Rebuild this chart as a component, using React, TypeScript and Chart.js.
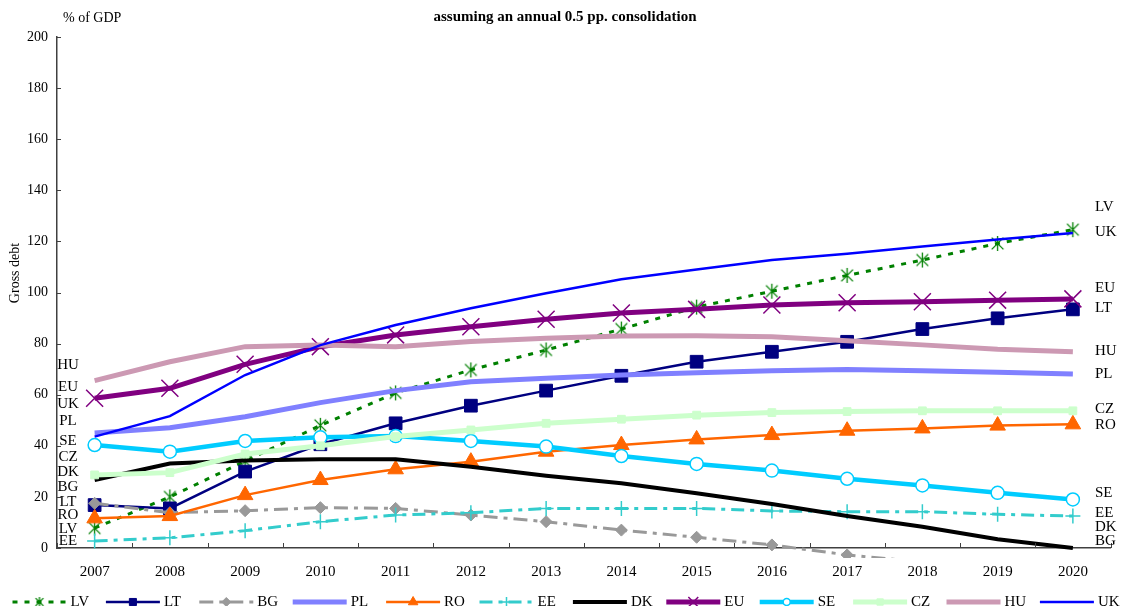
import React, { useEffect, useRef } from 'react';
import { Chart, registerables } from 'chart.js';
import { drawPoint } from 'chart.js/helpers';

Chart.register(...registerables);

const FONT = "'Liberation Serif', 'Times New Roman', Times, serif";

const years = ['2007', '2008', '2009', '2010', '2011', '2012', '2013', '2014', '2015', '2016', '2017', '2018', '2019', '2020'];

const LV = [7.8, 20, 34, 48, 60.7, 69.7, 77.5, 85.7, 94.3, 100.5, 106.7, 112.7, 119.2, 124.6];
const LT = [16.8, 15.5, 29.9, 40.6, 48.8, 55.7, 61.6, 67.4, 72.9, 76.8, 80.7, 85.7, 89.9, 93.4];
const BG = [17.5, 13.8, 14.6, 15.8, 15.5, 12.9, 10.3, 7.0, 4.2, 1.2, -2.7, -5.5, -8, -10];
const PL = [45, 47.1, 51.4, 56.9, 61.6, 65.1, 66.4, 67.7, 68.6, 69.4, 69.9, 69.4, 68.8, 68.1];
const RO = [11.6, 12.5, 20.7, 26.6, 30.8, 33.8, 37.7, 40.3, 42.5, 44.2, 45.9, 46.8, 47.9, 48.4];
const EE = [2.7, 4.0, 6.8, 10.3, 12.9, 13.8, 15.5, 15.5, 15.5, 14.5, 14.2, 14.2, 13.2, 12.5];
const DK = [26.6, 33.1, 34.2, 34.7, 34.7, 31.8, 28.3, 25.3, 21.4, 17.2, 12.5, 8.3, 3.4, 0];
const EU = [58.6, 62.5, 71.9, 78.8, 83.4, 86.6, 89.5, 92, 93.4, 95.1, 96, 96.4, 97, 97.5];
const SE = [40.3, 37.7, 41.9, 43.3, 43.8, 41.9, 39.7, 36, 32.9, 30.3, 27.1, 24.5, 21.6, 19];
const CZ = [28.6, 29.5, 36.8, 40, 43.6, 46.2, 48.8, 50.4, 52, 53, 53.4, 53.7, 53.7, 53.7];
const HU = [65.5, 72.9, 78.8, 79.5, 78.8, 80.8, 82.1, 83, 83.1, 82.7, 81.1, 79.5, 77.8, 76.8];
const UK = [43.6, 51.6, 67.7, 79.4, 87.3, 93.8, 99.7, 105.2, 109, 112.7, 115.2, 118, 120.7, 123.3];

// end-of-line labels (anchored at value positions on the y scale)
const leftLabelNames = ['HU', 'EU', 'UK', 'PL', 'SE', 'CZ', 'DK', 'BG', 'LT', 'RO', 'LV', 'EE'];
const leftLabelValues = [71.6, 63.1, 56.4, 49.8, 42.0, 35.7, 29.7, 24.0, 18.1, 12.9, 7.3, 2.9];
const rightLabelNames = ['LV', 'UK', 'EU', 'LT', 'HU', 'PL', 'CZ', 'RO', 'SE', 'EE', 'DK', 'BG'];
const rightLabelValues = [133.3, 123.6, 101.9, 94.1, 77.0, 68.1, 54.4, 48.1, 21.4, 13.8, 8.1, 2.9];

const yTicks = [0, 20, 40, 60, 80, 100, 120, 140, 160, 180, 200];

const titleText = 'assuming an annual 0.5 pp. consolidation';
const unitText = '% of GDP';
const yTitleText = 'Gross debt';

type Series = {
  name: string;
  data: number[];
  color: string;
  width: number;
  dash: number[];
  style: any;
  radius: number;
  fill: string;
  bw: number;
  legendRadius: number;
};

function makeAsterisk(r: number, color: string, lw: number) {
  const c = document.createElement('canvas');
  const s = Math.ceil(2 * r + 4);
  c.width = s;
  c.height = s;
  const g = c.getContext('2d')!;
  g.strokeStyle = color;
  g.lineWidth = lw;
  const m = s / 2;
  const a = r * 0.78;
  g.beginPath();
  g.moveTo(m - a, m - a);
  g.lineTo(m + a, m + a);
  g.moveTo(m + a, m - a);
  g.lineTo(m - a, m + a);
  g.moveTo(m, m - r);
  g.lineTo(m, m + r);
  g.stroke();
  return c;
}

export default function App() {
  const ref = useRef<HTMLCanvasElement | null>(null);

  useEffect(() => {
    document.body.style.margin = '0';
    const canvas = ref.current;
    if (!canvas) return;

    const astBig = makeAsterisk(7.5, '#008000', 1.3);
    const astSmall = makeAsterisk(5, '#008000', 1.3);

    const series: Series[] = [
      { name: 'LV', data: LV, color: '#008000', width: 3, dash: [5, 7], style: astBig, radius: 7, fill: '#008000', bw: 1, legendRadius: 5 },
      { name: 'LT', data: LT, color: '#000080', width: 2.5, dash: [], style: 'rect', radius: 9, fill: '#000080', bw: 1, legendRadius: 5 },
      { name: 'BG', data: BG, color: '#999999', width: 3, dash: [14, 6, 4, 6], style: 'rectRot', radius: 6, fill: '#999999', bw: 1, legendRadius: 4.5 },
      { name: 'PL', data: PL, color: '#8080ff', width: 5, dash: [], style: false, radius: 0, fill: '#8080ff', bw: 0, legendRadius: 0 },
      { name: 'RO', data: RO, color: '#ff6600', width: 2.5, dash: [], style: 'triangle', radius: 9, fill: '#ff6600', bw: 1, legendRadius: 5.5 },
      { name: 'EE', data: EE, color: '#33cccc', width: 3, dash: [13, 6, 4, 6], style: 'cross', radius: 7.5, fill: '#33cccc', bw: 1.5, legendRadius: 5 },
      { name: 'DK', data: DK, color: '#000000', width: 4, dash: [], style: false, radius: 0, fill: '#000000', bw: 0, legendRadius: 0 },
      { name: 'EU', data: EU, color: '#800080', width: 5, dash: [], style: 'crossRot', radius: 12, fill: '#800080', bw: 1.5, legendRadius: 7 },
      { name: 'SE', data: SE, color: '#00ccff', width: 4.5, dash: [], style: 'circle', radius: 6.5, fill: '#ffffff', bw: 1.5, legendRadius: 3.5 },
      { name: 'CZ', data: CZ, color: '#ccffcc', width: 5, dash: [], style: 'rect', radius: 5.5, fill: '#ccffcc', bw: 1, legendRadius: 4.5 },
      { name: 'HU', data: HU, color: '#cc99b3', width: 5, dash: [], style: false, radius: 0, fill: '#cc99b3', bw: 0, legendRadius: 0 },
      { name: 'UK', data: UK, color: '#0000ff', width: 2.5, dash: [], style: false, radius: 0, fill: '#0000ff', bw: 0, legendRadius: 0 },
    ];

    const annot = {
      id: 'annot',
      afterDraw(chart: any) {
        const { ctx, chartArea, scales } = chart;
        const ys = scales.y;
        ctx.save();
        // tick marks (inside)
        ctx.strokeStyle = '#404040';
        ctx.lineWidth = 1;
        ctx.setLineDash([]);
        const n = years.length;
        const step = (chartArea.right - chartArea.left) / n;
        ctx.beginPath();
        for (let i = 0; i <= n; i++) {
          const px = Math.round(chartArea.left + i * step) + 0.5;
          ctx.moveTo(px, chartArea.bottom);
          ctx.lineTo(px, chartArea.bottom - 5);
        }
        for (const v of yTicks) {
          const py = Math.round(ys.getPixelForValue(v)) + 0.5;
          ctx.moveTo(chartArea.left, py);
          ctx.lineTo(chartArea.left + 4, py);
        }
        ctx.stroke();

        ctx.fillStyle = '#000';
        // title
        ctx.font = `bold 15px ${FONT}`;
        ctx.textAlign = 'center';
        ctx.textBaseline = 'middle';
        ctx.fillText(titleText, 565, 17);
        // unit
        ctx.font = `14px ${FONT}`;
        ctx.textAlign = 'left';
        ctx.fillText(unitText, 63, 18);
        // y title
        ctx.save();
        ctx.translate(15, 273);
        ctx.rotate(-Math.PI / 2);
        ctx.textAlign = 'center';
        ctx.fillText(yTitleText, 0, 0);
        ctx.restore();

        // series labels
        ctx.font = `15px ${FONT}`;
        ctx.textAlign = 'center';
        leftLabelNames.forEach((t, i) => {
          ctx.fillText(t, 68, ys.getPixelForValue(leftLabelValues[i]));
        });
        ctx.textAlign = 'left';
        rightLabelNames.forEach((t, i) => {
          ctx.fillText(t, 1095, ys.getPixelForValue(rightLabelValues[i]));
        });

        // legend
        const ly = 602;
        series.forEach((s, i) => {
          const x0 = 12.5 + i * 93.4;
          const x1 = x0 + 54;
          ctx.strokeStyle = s.color;
          ctx.lineWidth = s.width;
          ctx.setLineDash(s.dash);
          ctx.beginPath();
          ctx.moveTo(x0, ly);
          ctx.lineTo(x1, ly);
          ctx.stroke();
          ctx.setLineDash([]);
          if (s.style) {
            ctx.fillStyle = s.fill;
            ctx.strokeStyle = s.color;
            ctx.lineWidth = s.bw;
            const st = s.name === 'LV' ? astSmall : s.style;
            drawPoint(ctx, { pointStyle: st, radius: s.legendRadius, rotation: 0, borderWidth: s.bw } as any, (x0 + x1) / 2, ly);
          }
          ctx.fillStyle = '#000';
          ctx.font = `15px ${FONT}`;
          ctx.textAlign = 'left';
          ctx.textBaseline = 'middle';
          ctx.fillText(s.name, x1 + 4, ly);
        });
        ctx.restore();
      },
    };

    const chart = new Chart(canvas, {
      type: 'line',
      data: {
        labels: years,
        datasets: series.map((s, i) => ({
          label: s.name,
          data: s.data,
          borderColor: s.color,
          backgroundColor: s.fill,
          borderWidth: s.width,
          borderDash: s.dash,
          pointStyle: s.style,
          pointRadius: s.radius,
          pointHoverRadius: s.radius,
          pointBackgroundColor: s.fill,
          pointBorderColor: s.color,
          pointBorderWidth: s.bw,
          tension: 0,
          fill: false,
          order: -i,
          clip: { left: 12, top: 12, right: 12, bottom: 10 } as any,
        })),
      },
      options: {
        responsive: false,
        animation: false,
        devicePixelRatio: 1,
        layout: { padding: { left: 0, top: 37, right: 6, bottom: 0 } },
        plugins: {
          legend: { display: false },
          title: { display: false },
          tooltip: { enabled: false },
        },
        scales: {
          x: {
            type: 'category',
            offset: true,
            grid: { offset: true, drawOnChartArea: false, drawTicks: false },
            border: { display: true, color: '#404040', width: 1.5 },
            ticks: { color: '#000', font: { family: FONT, size: 15 }, padding: 15, maxRotation: 0, autoSkip: false },
            afterFit: (s: any) => { s.height = 58; },
          },
          y: {
            min: 0,
            max: 200,
            grid: { drawOnChartArea: false, drawTicks: false },
            border: { display: true, color: '#404040', width: 1.5 },
            ticks: { stepSize: 20, color: '#000', font: { family: FONT, size: 14 }, padding: 9 },
            afterFit: (s: any) => { s.width = 57; },
          },
        },
      },
      plugins: [annot],
    });

    return () => chart.destroy();
  }, []);

  return (
    <div style={{ position: 'fixed', left: 0, top: 0, width: 1124, height: 606, background: '#fff' }}>
      <canvas ref={ref} width={1124} height={606} style={{ display: 'block' }} />
    </div>
  );
}
